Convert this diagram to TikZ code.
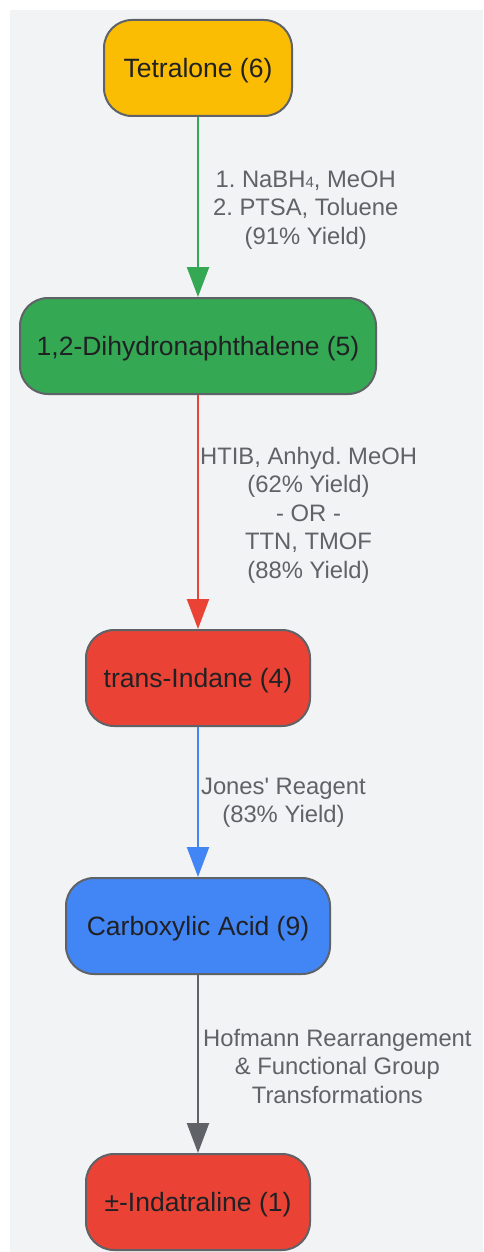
\documentclass[tikz,border=0pt]{standalone}
\usepackage{fontspec}
\setmainfont{Liberation Sans}
\usetikzlibrary{arrows.meta,positioning}

\definecolor{bgGray}{HTML}{F1F3F4}
\definecolor{edgeGray}{HTML}{5F6368}
\definecolor{txtDark}{HTML}{202124}
\definecolor{gYellow}{HTML}{FBBC04}
\definecolor{gGreen}{HTML}{34A853}
\definecolor{gRed}{HTML}{EA4335}
\definecolor{gBlue}{HTML}{4285F4}

\tikzset{
  stage/.style={draw=edgeGray, line width=2pt, rounded corners=28pt,
    minimum height=96pt, text height=19pt, text depth=0pt,
    text=txtDark, font=\fontsize{26.5}{31}\selectfont},
  conv/.style={line width=2.2pt, -{Triangle[width=22pt,length=30pt]}},
  cond/.style={text=edgeGray, align=center, anchor=west, inner sep=1pt,
    font=\fontsize{23.8}{28.5}\selectfont}
}
\newcommand{\lowfour}{{\fontsize{15}{15}\selectfont 4}}

\begin{document}
\frenchspacing
\begin{tikzpicture}[x=1pt,y=-1pt]
    % ~~~~ Fondo ~~~~ %
    \useasboundingbox (0,0) rectangle (483,1252);
    \fill[bgGray] (10,10) rectangle (483,1252);

    % ~~~~ Compuestos ~~~~ %
    \node[stage, fill=gYellow, minimum width=188pt] (tetralone) at (198,68) {Tetralone (6)};
    \node[stage, fill=gGreen, minimum width=356pt] (dihydro) at (198,346) {1,2-Dihydronaphthalene (5)};
    \node[stage, fill=gRed, minimum width=224pt] (indane) at (198,678) {trans-Indane (4)};
    \node[stage, fill=gBlue, minimum width=264pt] (acid) at (198,926) {Carboxylic Acid (9)};
    \node[stage, fill=gRed, minimum width=224pt] (indatraline) at (198,1202) {\symbol{"00B1}-Indatraline (1)};

    % ~~~~ Reacciones ~~~~ %
    \draw[conv, gGreen] (tetralone) -- (dihydro)
        node[cond, midway, xshift=13pt, yshift=-3pt] (step1) {1. NaBH\lowfour, MeOH\\2. PTSA, Toluene\\(91\% Yield)};
    \draw[conv, gRed] (dihydro) -- (indane)
        node[cond, midway, yshift=-3pt] (step2) {HTIB, Anhyd. MeOH\\(62\% Yield)\\- OR -\\TTN, TMOF\\(88\% Yield)};
    \draw[conv, gBlue] (indane) -- (acid)
        node[cond, midway, xshift=1pt, yshift=-1pt] (step3) {Jones\textquotesingle{} Reagent\\(83\% Yield)};
    \draw[conv, edgeGray] (acid) -- (indatraline)
        node[cond, midway, xshift=3pt, yshift=-2pt] (step4) {Hofmann Rearrangement\\\& Functional Group\\Transformations};
\end{tikzpicture}
\end{document}
